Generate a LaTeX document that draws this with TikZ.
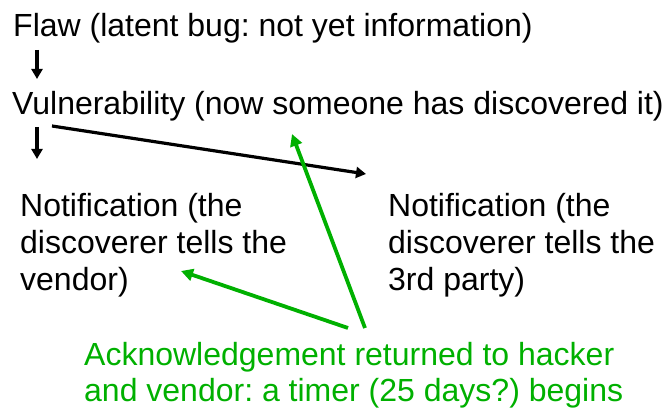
\documentclass[tikz,border=0pt]{standalone}
\usepackage{fontspec}
\setmainfont{Liberation Sans}
\usetikzlibrary{arrows.meta}
\definecolor{ackgreen}{RGB}{0,176,0}
\frenchspacing
\begin{document}
\begin{tikzpicture}[x=1pt,y=-1pt,
  txt/.style={anchor=base west, inner sep=0pt, font=\fontsize{32}{37}\selectfont, align=left},
  ack/.style={txt, text=ackgreen, font=\fontsize{32}{36}\selectfont},
  blk/.style={line width=3.2pt, -{Triangle[length=10pt,width=11pt]}},
  grn/.style={draw=ackgreen, line width=3.8pt, -{Triangle[length=12pt,width=12pt]}}]
\useasboundingbox (0,0) rectangle (670,411);

% the stages, top to bottom (base anchor sits on the last line)
\node[txt] (flaw) at (13,37) {Flaw (latent bug: not yet information)};
\node[txt] (vuln) at (12,115) {Vulnerability (now someone has discovered it)};
\node[txt] (notv) at (20,291) {Notification (the\\discoverer tells the\\vendor)};
\node[txt] (nott) at (388,291) {Notification (the\\discoverer tells the\\3rd party)};
\node[ack] (ack) at (84,402) {Acknowledgement returned to hacker\\and vendor: a timer (25 days?) begins};

% arrow end points
\coordinate (a1s) at (37,50);
\coordinate (a1e) at (37,79);
\coordinate (a2s) at (37,127);
\coordinate (a2e) at (37,159);
\coordinate (bs) at (52,126);
\coordinate (be) at (366,174);
\coordinate (g1s) at (365,328);
\coordinate (g1e) at (292,134);
\coordinate (g2s) at (348,328);
\coordinate (g2e) at (181,271);

% progression arrows
\draw[blk] (a1s) -- (a1e);
\draw[blk] (a2s) -- (a2e);
\draw[blk] (bs) -- (be);

% acknowledgement arrows
\draw[grn] (g1s) -- (g1e);
\draw[grn] (g2s) -- (g2e);
\end{tikzpicture}
\end{document}
